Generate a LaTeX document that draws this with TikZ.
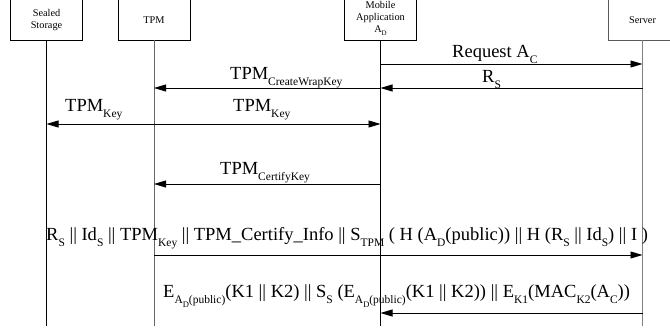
\documentclass[tikz,border=0pt]{standalone}
\usepackage{fontspec}
\setmainfont{Liberation Serif}
\usetikzlibrary{arrows.meta}

% lowered subscripts, as set in the message labels
\newcommand{\lo}[1]{\raisebox{-0.32em}{\fontsize{11.5}{11.5}\selectfont #1}}
\newcommand{\llo}[1]{\raisebox{-0.3em}{\fontsize{8.5}{8.5}\selectfont #1}}
\newcommand{\bx}[1]{\raisebox{-0.25em}{\fontsize{7}{7}\selectfont #1}}

\begin{document}
\begin{tikzpicture}[x=1pt,y=-1pt,
  actor/.style={draw=black,line width=0.8pt,minimum width=72pt,minimum height=60pt,inner sep=0pt},
  actortext/.style={font=\fontsize{10.3}{11.8}\selectfont,align=center,inner sep=0pt},
  life/.style={line width=0.8pt},
  msg/.style={line width=0.8pt,-{Triangle[length=12pt,width=7pt]}},
  msglabel/.style={font=\fontsize{18.5}{18.5}\selectfont,inner sep=0pt,anchor=base west}]
\useasboundingbox (0,0) rectangle (670,331);
\clip (0,0) rectangle (670,331);

% participants
\node[actor] (ss) at (46.5,10) {};
\node[actor] (tpm) at (154,10) {};
\node[actor] (ma) at (380.5,10) {};
\node[actor,draw=black!65,minimum width=68pt] (srv) at (642.5,10) {};
\node[actortext] (sst) at (46.5,20) {Sealed\\Storage};
\node[actortext] (tpmt) at (154,20.5) {TPM};
\node[actortext] (mat) at (380.5,18.5) {Mobile\\Application\\A\bx{D}};
\node[actortext] (srvt) at (642.5,20.5) {Server};

% lifelines
\coordinate (ssend) at (46.5,326);
\coordinate (tpmend) at (154,326);
\coordinate (maend) at (380.5,326);
\coordinate (srvend) at (642.5,326);
\draw[life] (ss.south) -- (ssend);
\draw[life,draw=black!60] (tpm.south) -- (tpmend);
\draw[life] (ma.south) -- (maend);
\draw[life,draw=black!50,line width=1.1pt] (srv.south) -- (srvend);

% message end points on the lifelines
\coordinate (ma1) at (380.5,64);  \coordinate (srv1) at (642.5,64);
\coordinate (srv2) at (642.5,88); \coordinate (ma2) at (380.5,88);
\coordinate (tpm2) at (154,88);
\coordinate (ss3) at (46.5,124);  \coordinate (ma3) at (380.5,124);
\coordinate (ma4) at (380.5,184); \coordinate (tpm4) at (154,184);
\coordinate (tpm5) at (154,255);  \coordinate (srv5) at (642.5,255);
\coordinate (srv6) at (642.5,313); \coordinate (ma6) at (380.5,313);

% messages
\draw[msg] (ma1) -- (srv1);
\draw[msg] (srv2) -- (ma2);
\draw[msg] (ma2) -- (tpm2);
\draw[msg,{Triangle[length=12pt,width=7pt]}-{Triangle[length=12pt,width=7pt]}] (ss3) -- (ma3);
\draw[msg] (ma4) -- (tpm4);
\draw[msg] (tpm5) -- (srv5);
\draw[msg] (srv6) -- (ma6);

% labels
\node[msglabel] (l1) at (452,58) {Request A\lo{C}};
\node[msglabel] (l2) at (482,83) {R\lo{S}};
\node[msglabel] (l3) at (230,80) {TPM\lo{CreateWrapKey}};
\node[msglabel] (l4) at (65,112) {TPM\lo{Key}};
\node[msglabel] (l5) at (233,112) {TPM\lo{Key}};
\node[msglabel] (l6) at (220,175) {TPM\lo{CertifyKey}};
\node[msglabel] (l7) at (46,241) {R\lo{S} || Id\lo{S} || TPM\lo{Key} || TPM\_Certify\_Info || S\lo{TPM} ( H (A\lo{D}(public)) || H (R\lo{S} || Id\lo{S}) || I )};
\node[msglabel] (l8) at (163,298) {E\lo{A\llo{D}(public)}(K1 || K2) || S\lo{S} (E\lo{A\llo{D}(public)}(K1 || K2)) || E\lo{K1}(MAC\lo{K2}(A\lo{C}))};
\end{tikzpicture}
\end{document}
